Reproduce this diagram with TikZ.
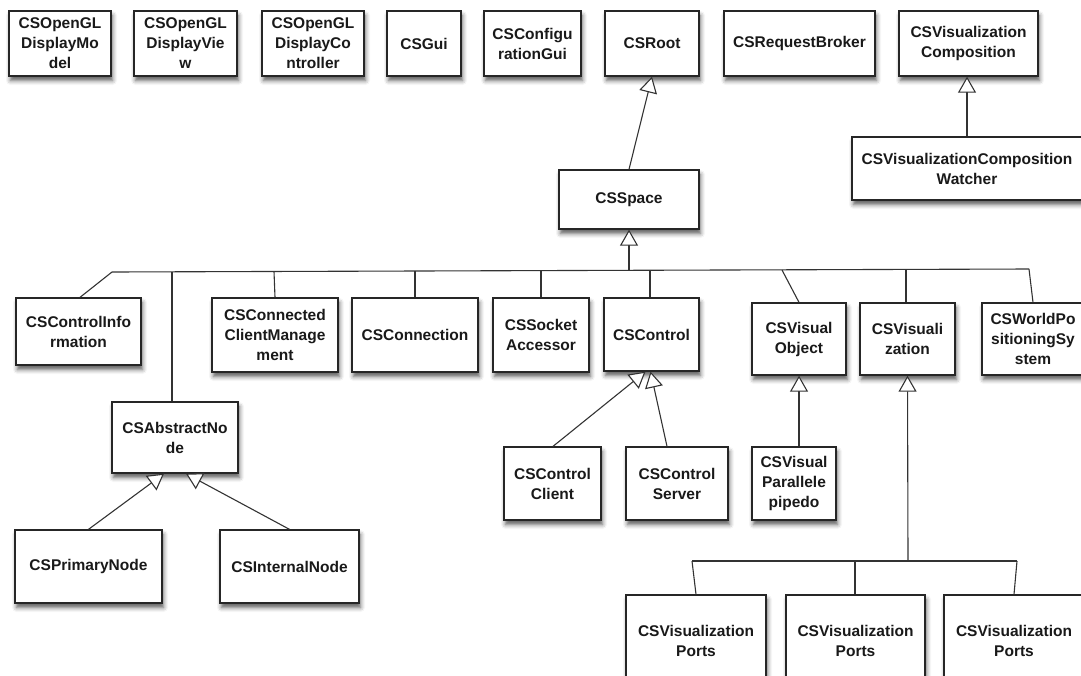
\documentclass[tikz,border=0pt]{standalone}
\usepackage{fontspec}
\setmainfont{Liberation Sans}
\usetikzlibrary{arrows.meta,shadows.blur}

\begin{document}
\begin{tikzpicture}[x=1pt,y=-1pt,
  cls/.style={draw=black!85, line width=1.3pt, fill=white, inner sep=0pt,
    align=center, text=black!90,
    font=\fontsize{15.5}{20}\selectfont\bfseries,
    blur shadow={shadow xshift=1.5pt, shadow yshift=-4.5pt,
      shadow blur radius=4.5pt, shadow opacity=65}},
  link/.style={draw=black!80, line width=1.1pt},
  inherit/.style={link, -{Triangle[open, length=16pt, width=18pt, fill=white]}}
]
\useasboundingbox (0,0) rectangle (1081,675);

% top row of stand-alone classes
\node[cls, minimum width=102, minimum height=65] (glmodel) at (60,43.5) {CSOpenGL\\DisplayMo\\del};
\node[cls, minimum width=103, minimum height=65] (glview) at (185.5,43.5) {CSOpenGL\\DisplayVie\\w};
\node[cls, minimum width=102, minimum height=65] (glctrl) at (313,43.5) {CSOpenGL\\DisplayCo\\ntroller};
\node[cls, minimum width=74, minimum height=65] (gui) at (424,43.5) {CSGui};
\node[cls, minimum width=97, minimum height=65] (confgui) at (532.5,43.5) {CSConfigu\\rationGui};
\node[cls, minimum width=94, minimum height=65] (root) at (652,43.5) {CSRoot};
\node[cls, minimum width=151, minimum height=65] (broker) at (799.5,43.5) {CSRequestBroker};
\node[cls, minimum width=139, minimum height=65] (viscomp) at (968.5,43.5) {CSVisualization\\Composition};
\node[cls, minimum width=230, minimum height=63] (watcher) at (967,168.5) {CSVisualizationComposition\\Watcher};

% space and its subclasses
\node[cls, minimum width=140, minimum height=59] (space) at (629,199.5) {CSSpace};
\node[cls, minimum width=125, minimum height=67] (ctrlinfo) at (78.5,331.5) {CSControlInfo\\rmation};
\node[cls, minimum width=126, minimum height=74] (ccm) at (275,335) {CSConnected\\ClientManage\\ment};
\node[cls, minimum width=126, minimum height=74] (conn) at (415,335) {CSConnection};
\node[cls, minimum width=96, minimum height=74] (sock) at (541,335) {CSSocket\\Accessor};
\node[cls, minimum width=95, minimum height=73] (control) at (651.5,334.5) {CSControl};
\node[cls, minimum width=94, minimum height=72] (visobj) at (799,339) {CSVisual\\Object};
\node[cls, minimum width=95, minimum height=72] (vis) at (907.5,339) {CSVisuali\\zation};
\node[cls, minimum width=102, minimum height=72] (wps) at (1033,339) {CSWorldPo\\sitioningSy\\stem};
\node[cls, minimum width=126, minimum height=71] (absnode) at (175,437.5) {CSAbstractNo\\de};

% lower levels
\node[cls, minimum width=147, minimum height=73] (primary) at (88.5,566.5) {CSPrimaryNode};
\node[cls, minimum width=139, minimum height=73] (internal) at (289.5,566.5) {CSInternalNode};
\node[cls, minimum width=97, minimum height=73] (client) at (552.5,483.5) {CSControl\\Client};
\node[cls, minimum width=102, minimum height=73] (server) at (677,483.5) {CSControl\\Server};
\node[cls, minimum width=84, minimum height=73] (para) at (794,483.5) {CSVisual\\Parallele\\pipedo};
\node[cls, minimum width=140, minimum height=92] (ports1) at (696,641) {CSVisualization\\Ports};
\node[cls, minimum width=139, minimum height=92] (ports2) at (855.5,641) {CSVisualization\\Ports};
\node[cls, minimum width=140, minimum height=92] (ports3) at (1014,641) {CSVisualization\\Ports};

% bus under CSSpace
\coordinate (bL) at (112,272);
\coordinate (bR) at (1029,269);
\coordinate (jspace) at (629,270.5);
\coordinate (jabs) at (172,272);
\coordinate (jccm) at (274,271.5);
\coordinate (jconn) at (415,271);
\coordinate (jsock) at (541,271);
\coordinate (jctrl) at (650,270.5);
\coordinate (jvobj) at (782,270);
\coordinate (jvis) at (906,269.5);

% bus under CSVisualization
\coordinate (pL) at (692,561);
\coordinate (pR) at (1017,561);
\coordinate (pvis) at (908,561);
\coordinate (pmid) at (855,561);

% generalisations
\draw[inherit] (space.north) -- (root.south);
\draw[inherit] (watcher.north) -- (watcher.north |- viscomp.south);
\draw[inherit] (jspace) -- (space.south);
\draw[inherit] (primary.north) -- ([xshift=-11pt]absnode.south);
\draw[inherit] (internal.north) -- ([xshift=11pt]absnode.south);
\draw[inherit] ([xshift=0.5pt]client.north) -- ([xshift=-6pt]control.south);
\draw[inherit] ([xshift=-10pt]server.north) -- ([xshift=-1pt]control.south);
\draw[inherit] ([xshift=5pt]para.north) -- (visobj.south);
\draw[inherit] (pvis) -- (vis.south);

% bus lines and branches
\draw[link] (bL) -- (bR);
\draw[link] (bL) -- ([xshift=1.5pt]ctrlinfo.north);
\draw[link] (jabs) -- (jabs |- absnode.north);
\draw[link] (jccm) -- ([xshift=0pt]ccm.north);
\draw[link] (jconn) -- (conn.north);
\draw[link] (jsock) -- (sock.north);
\draw[link] (jctrl) -- (jctrl |- control.north);
\draw[link] (jvobj) -- (visobj.north);
\draw[link] (jvis) -- (jvis |- vis.north);
\draw[link] (bR) -- (wps.north);

\draw[link] (pL) -- (pR);
\draw[link] (pL) -- (ports1.north);
\draw[link] (pmid) -- (pmid |- ports2.north);
\draw[link] (pR) -- (ports3.north);
\end{tikzpicture}
\end{document}
